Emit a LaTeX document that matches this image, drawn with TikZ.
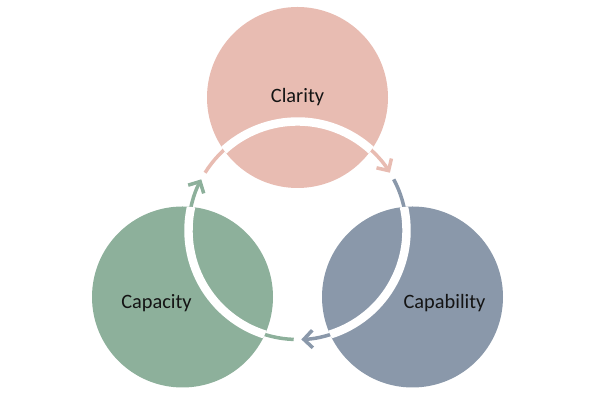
\documentclass[tikz,border=0pt]{standalone}
\usepackage{fontspec}
\setsansfont{Carlito}
\usetikzlibrary{arrows.meta,calc}
\definecolor{rose}{HTML}{E8BCB2}
\definecolor{sagegreen}{HTML}{8DB09B}
\definecolor{slate}{HTML}{8A98AA}
\definecolor{ink}{HTML}{141414}

\begin{document}
\begin{tikzpicture}[
      bubble/.style={circle, minimum size=3.62cm, inner sep=0pt},
      lbl/.style={font=\sffamily\fontsize{11.6}{13}\selectfont, text=ink},
      cyc/.style={-{Straight Barb[length=5pt, width=10pt]}, line width=2pt},
      band/.style={draw=white, line width=4.8pt}
    ]
      \useasboundingbox (0,0) rectangle (12,8);
      \coordinate (hub) at (5.95,3.39);
      % cycle round the hub, under the circles
      \draw[cyc, rose]      ($(hub)+(148:2.18)$) arc[start angle=148, end angle=32, radius=2.18];
      \draw[cyc, slate]     ($(hub)+(28:2.18)$)  arc[start angle=28, end angle=-88, radius=2.18];
      \draw[cyc, sagegreen] ($(hub)+(-92:2.18)$) arc[start angle=-92, end angle=-208, radius=2.18];
      \node[bubble, fill=rose]      (clarity)    at (5.95,6.05) {};
      \node[bubble, fill=sagegreen] (capacity)   at (3.65,2.06) {};
      \node[bubble, fill=slate]     (capability) at (8.25,2.06) {};
      % white band where the cycle crosses a circle
      \begin{scope}
        \clip (clarity.center) circle[radius=1.81] (capacity.center) circle[radius=1.81]
              (capability.center) circle[radius=1.81];
        \draw[band] ($(hub)+(148:2.18)$) arc[start angle=148, end angle=32, radius=2.18];
        \draw[band] ($(hub)+(28:2.18)$)  arc[start angle=28, end angle=-88, radius=2.18];
        \draw[band] ($(hub)+(-92:2.18)$) arc[start angle=-92, end angle=-208, radius=2.18];
      \end{scope}
      \node[lbl] (claritytxt)    at (clarity) {Clarity};
      \node[lbl] (capacitytxt)   at ([xshift=-0.52cm, yshift=-0.12cm]capacity.center) {Capacity};
      \node[lbl] (capabilitytxt) at ([xshift=0.64cm, yshift=-0.12cm]capability.center) {Capability};
    \end{tikzpicture}
\end{document}
